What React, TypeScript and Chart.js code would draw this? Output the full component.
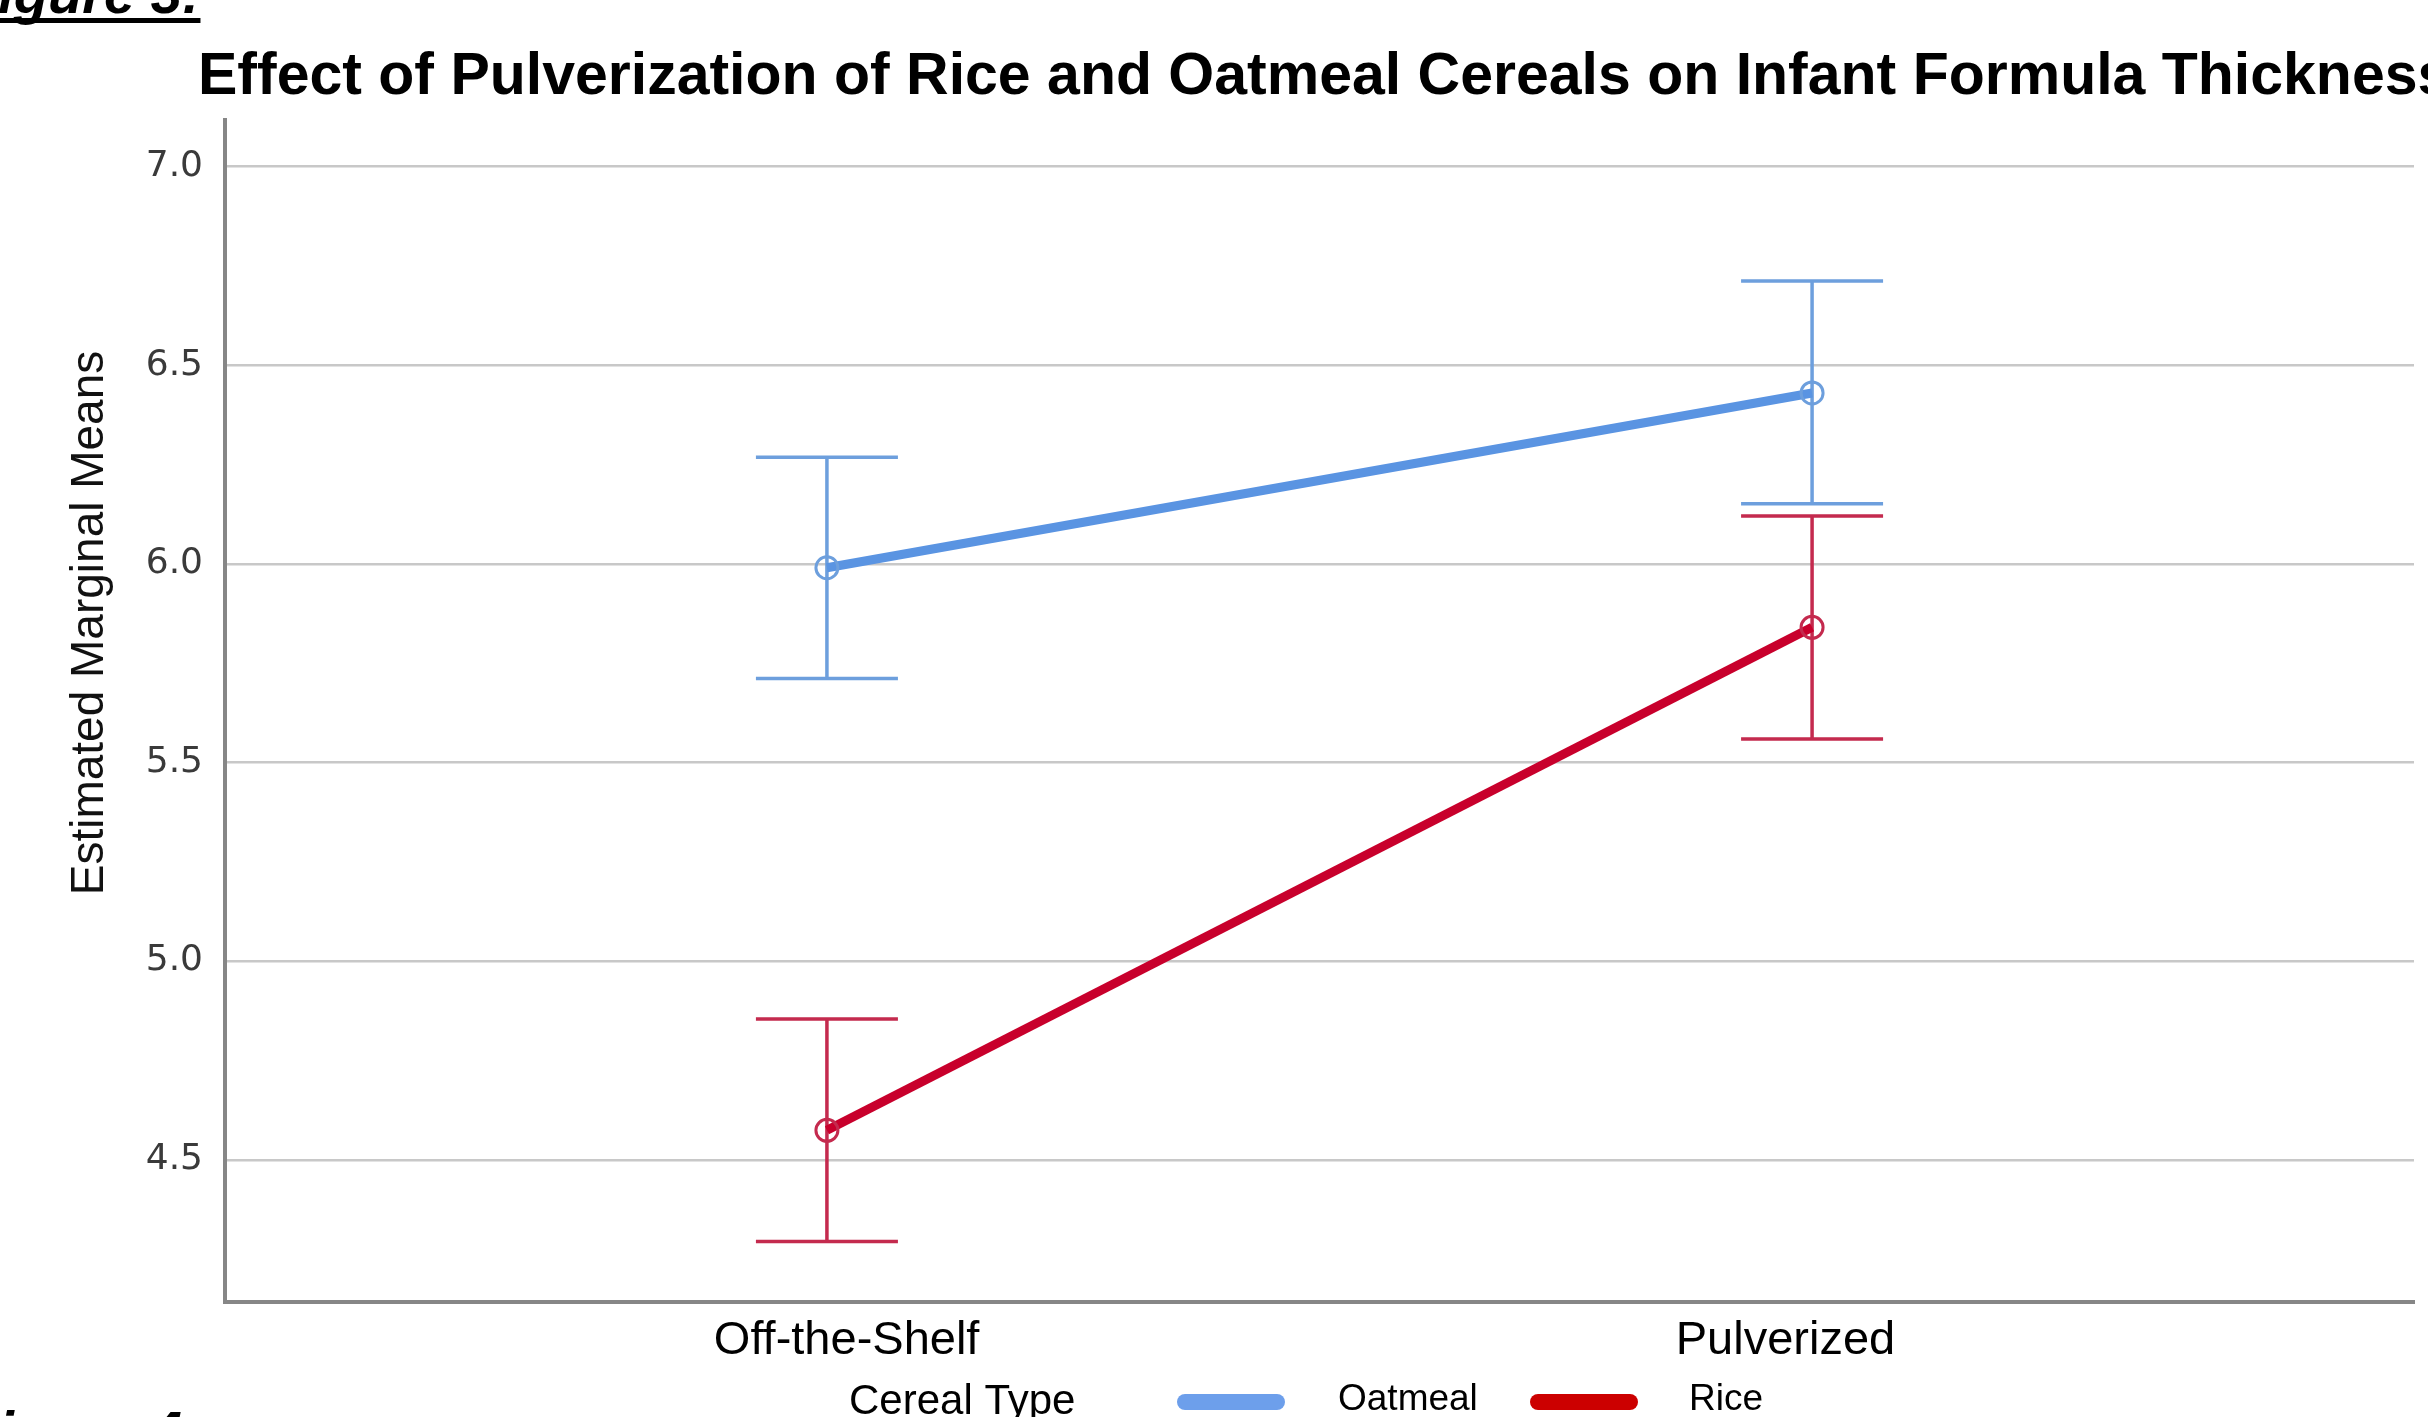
import React, { useEffect, useRef } from "react";
import { Chart, registerables } from "chart.js";

Chart.register(...registerables);

const categories = ["Off-the-Shelf", "Pulverized"];
const categoryPositions = [0, 1];
const categoryLabelPositions = [0.02, 0.973];
const seriesNames = ["Oatmeal", "Rice"];
const oatmealMeans = [5.99, 6.43];
const oatmealLower = [5.711, 6.151];
const oatmealUpper = [6.268, 6.712];
const riceMeans = [4.574, 5.84];
const riceLower = [4.294, 5.559];
const riceUpper = [4.854, 6.12];
const yTicks = [4.5, 5.0, 5.5, 6.0, 6.5, 7.0];

const W = 2428;
const H = 1417;

const OAT_LINE = "#5a94e2";
const OAT_ERR = "#6d9fdd";
const OAT_SWATCH = "#6d9feb";
const RICE_LINE = "#c8002c";
const RICE_ERR = "#c42a4e";
const RICE_SWATCH = "#cc0000";

const errorBarPlugin = {
  id: "errorBars",
  beforeDatasetsDraw(chart: any) {
    const ctx = chart.ctx;
    const xs = chart.scales.x;
    const ys = chart.scales.y;
    chart.data.datasets.forEach((ds: any) => {
      ctx.save();
      ctx.strokeStyle = ds.errColor;
      ctx.lineWidth = 3.5;
      ds.data.forEach((p: any, j: number) => {
        const x = xs.getPixelForValue(p.x);
        const y1 = ys.getPixelForValue(ds.errLow[j]);
        const y2 = ys.getPixelForValue(ds.errHigh[j]);
        const hw = 71;
        ctx.beginPath();
        ctx.moveTo(x, y1);
        ctx.lineTo(x, y2);
        ctx.moveTo(x - hw, y1);
        ctx.lineTo(x + hw, y1);
        ctx.moveTo(x - hw, y2);
        ctx.lineTo(x + hw, y2);
        ctx.stroke();
      });
      ctx.restore();
    });
  },
};

const textPlugin = {
  id: "texts",
  afterDraw(chart: any) {
    const ctx = chart.ctx;
    ctx.save();
    ctx.fillStyle = "#000";
    ctx.textBaseline = "alphabetic";
    ctx.textAlign = "left";

    // Title
    ctx.font = "bold 59px 'Liberation Sans', Arial, sans-serif";
    ctx.fillText(
      "Effect of Pulverization of Rice and Oatmeal Cereals on Infant Formula Thickness",
      198,
      94
    );

    // Figure labels (partially out of frame)
    ctx.font = "italic bold 56px 'Liberation Sans', Arial, sans-serif";
    const f3 = "Figure 3:";
    const fx = -36;
    ctx.fillText(f3, fx, 13);
    const w3 = ctx.measureText(f3).width;
    ctx.fillRect(0, 18, fx + w3, 5);
    ctx.fillText("Figure 4:", fx, 1450);

    // Y-axis title
    ctx.save();
    ctx.translate(90, 623);
    ctx.rotate(-Math.PI / 2);
    ctx.textAlign = "center";
    ctx.textBaseline = "middle";
    ctx.font = "46px 'Liberation Sans', Arial, sans-serif";
    ctx.fillStyle = "#111";
    ctx.fillText("Estimated Marginal Means", 0, 0);
    ctx.restore();

    // Legend
    ctx.textAlign = "left";
    ctx.font = "42px 'Liberation Sans', Arial, sans-serif";
    ctx.fillText("Cereal Type", 849, 1414);
    ctx.font = "37px 'Liberation Sans', Arial, sans-serif";
    const swatches = [
      { color: OAT_SWATCH, x0: 1177, x1: 1285, tx: 1338, label: seriesNames[0] },
      { color: RICE_SWATCH, x0: 1530, x1: 1638, tx: 1689, label: seriesNames[1] },
    ];
    swatches.forEach((s) => {
      ctx.strokeStyle = s.color;
      ctx.lineWidth = 16;
      ctx.lineCap = "round";
      ctx.beginPath();
      ctx.moveTo(s.x0 + 8, 1402);
      ctx.lineTo(s.x1 - 8, 1402);
      ctx.stroke();
      ctx.fillText(s.label, s.tx, 1410);
    });
    ctx.restore();
  },
};

export default function App() {
  const ref = useRef<HTMLCanvasElement | null>(null);

  useEffect(() => {
    if (!ref.current) return;
    const chart = new Chart(ref.current, {
      type: "line",
      data: {
        datasets: [
          {
            label: seriesNames[0],
            data: categoryPositions.map((x, i) => ({ x, y: oatmealMeans[i] })),
            borderColor: OAT_LINE,
            borderWidth: 9,
            pointRadius: 11,
            pointBorderWidth: 3,
            pointBorderColor: OAT_ERR,
            pointBackgroundColor: "rgba(0,0,0,0)",
            fill: false,
            tension: 0,
            errLow: oatmealLower,
            errHigh: oatmealUpper,
            errColor: OAT_ERR,
          } as any,
          {
            label: seriesNames[1],
            data: categoryPositions.map((x, i) => ({ x, y: riceMeans[i] })),
            borderColor: RICE_LINE,
            borderWidth: 9,
            pointRadius: 11,
            pointBorderWidth: 3,
            pointBorderColor: RICE_ERR,
            pointBackgroundColor: "rgba(0,0,0,0)",
            fill: false,
            tension: 0,
            errLow: riceLower,
            errHigh: riceUpper,
            errColor: RICE_ERR,
          } as any,
        ],
      },
      options: {
        animation: false,
        responsive: false,
        devicePixelRatio: 1,
        layout: { padding: { top: 120, right: 6, left: 0, bottom: 0 } },
        plugins: {
          legend: { display: false },
          title: { display: false },
          tooltip: { enabled: false },
        },
        scales: {
          x: {
            type: "linear",
            min: -0.611,
            max: 1.611,
            afterBuildTicks(scale: any) {
              scale.ticks = categoryLabelPositions.map((v) => ({ value: v }));
            },
            afterFit(scale: any) {
              scale.height = 115;
            },
            ticks: {
              padding: 11,
              color: "#000",
              font: { family: "'Liberation Sans', Arial, sans-serif", size: 47 },
              maxRotation: 0,
              autoSkip: false,
              callback: (_v: any, i: number) => categories[i],
            },
            grid: { display: false, drawTicks: false },
            border: { display: true, color: "#868686", width: 4 },
          },
          y: {
            type: "linear",
            min: 4.142,
            max: 7.117,
            afterBuildTicks(scale: any) {
              scale.ticks = yTicks.map((v) => ({ value: v }));
            },
            afterFit(scale: any) {
              scale.width = 225;
            },
            ticks: {
              padding: 22,
              color: "#3a3a3a",
              font: { family: "'DejaVu Sans', sans-serif", size: 36 },
              callback: (v: any) => Number(v).toFixed(1),
            },
            grid: { color: "#c8c8c8", lineWidth: 2.5, drawTicks: false },
            border: { display: true, color: "#868686", width: 4 },
          },
        },
      } as any,
      plugins: [errorBarPlugin, textPlugin],
    });
    return () => chart.destroy();
  }, []);

  return (
    <div style={{ position: "absolute", left: 0, top: 0, width: W, height: H, background: "#fff", overflow: "hidden" }}>
      <canvas ref={ref} width={W} height={H} style={{ display: "block", width: W, height: H }} />
    </div>
  );
}
